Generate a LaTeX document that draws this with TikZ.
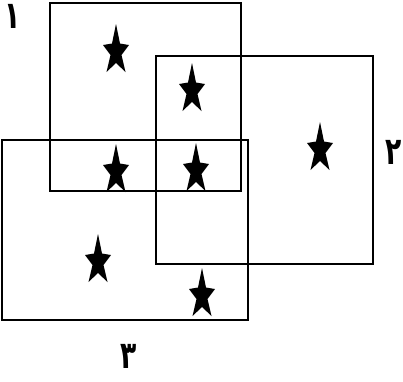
\documentclass[tikz,border=0pt]{standalone}
\usepackage{fontspec}
\newfontfamily\arabicfont[Script=Arabic]{DejaVu Sans}
\TeXXeTstate=1

\begin{document}
\begin{tikzpicture}[x=1pt, y=-1pt,
  region/.style={draw, line width=1.6pt},
  starmark/.pic={\fill (0,-24) -- (4,-4.5) -- (13,-3) -- (5.5,7) -- (9.5,24) -- (0,15)
                   -- (-9.5,24) -- (-5.5,7) -- (-13,-3) -- (-4,-4.5) -- cycle;},
  num/.style={font=\arabicfont\bfseries\fontsize{38}{38}\selectfont,
              inner sep=0pt, xscale=0.7}]
\useasboundingbox (0,0) rectangle (403,381);

%% the three overlapping regions
\draw[region] (50,3)   rectangle (241,191);
\draw[region] (156,56) rectangle (373,264);
\draw[region] (2,140)  rectangle (248,320);

%% labels
\node[num] (n1) at (13,16)   {\beginR ١\endR};
\node[num] (n2) at (394,152) {\beginR ٢\endR};
\node[num] (n3) at (129,356) {\beginR ٣\endR};

%% stars
\pic (s1) at (116,48)  {starmark};
\pic (s2) at (192,87)  {starmark};
\pic (s3) at (320,146) {starmark};
\pic (s4) at (116,168) {starmark};
\pic (s5) at (196,167) {starmark};
\pic (s6) at (98,258)  {starmark};
\pic (s7) at (202,292) {starmark};
\end{tikzpicture}
\end{document}
